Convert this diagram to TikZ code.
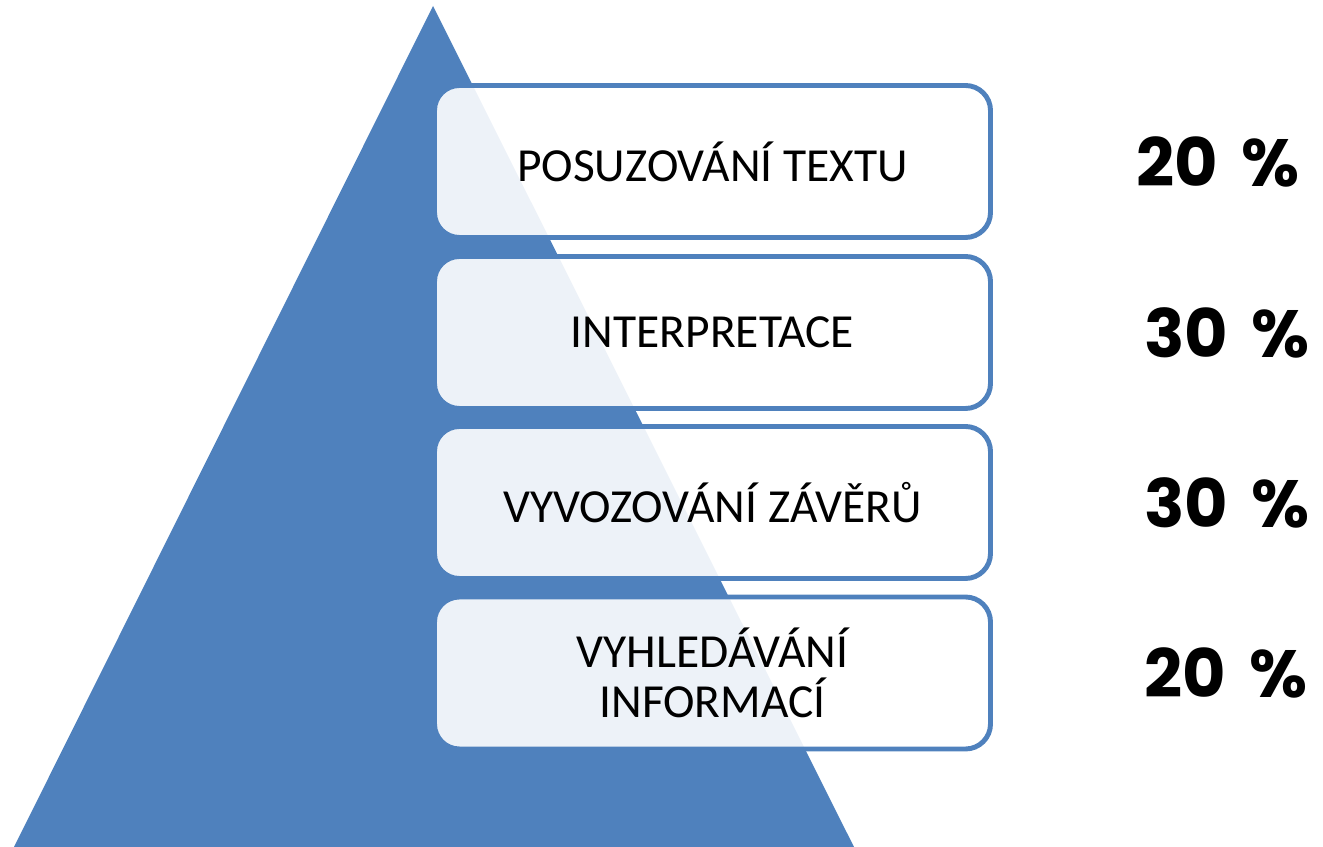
\documentclass[tikz,border=0pt]{standalone}
\usepackage{fontspec}
\setmainfont{Carlito}
\newfontfamily\pcfont{Poppins}[UprightFont=*-Bold]
\usetikzlibrary{positioning}
\definecolor{pyrblue}{HTML}{4F81BD}
\tikzset{
    level/.style={draw=pyrblue, line width=2.8pt, rounded corners=0.5cm,
        fill=white, fill opacity=0.9, text opacity=1,
        minimum width=11.12cm, minimum height=3.04cm,
        align=center, font=\fontsize{27}{28.5}\selectfont},
    share/.style={anchor=west, font=\pcfont\fontsize{38}{40}\selectfont}
}
\begin{document}
\begin{tikzpicture}
    \useasboundingbox (0, 0) rectangle (26.46, 16.94);
    % pyramid
    \fill[pyrblue] (0.28, 0) -- (8.66, 16.82) -- (17.08, 0) -- cycle;
    % levels with their shares
    \foreach \n/\y/\txt/\pc/\gap in {
        1/13.71/{POSUZOVÁNÍ TEXTU}/{20\hspace{0.35em}\%}/2.75,
        2/10.29/{INTERPRETACE}/{30\hspace{0.35em}\%}/2.9,
        3/6.89/{VYVOZOVÁNÍ ZÁVĚRŮ}/{30\hspace{0.35em}\%}/2.9,
        4/3.48/{VYHLEDÁVÁNÍ\\INFORMACÍ}/{20\hspace{0.35em}\%}/2.9}{
        \node[level] (lvl\n) at (14.25, \y) {\txt};
        \node[share, right=\gap cm of lvl\n] (pc\n) {\pc};
    }
\end{tikzpicture}
\end{document}
